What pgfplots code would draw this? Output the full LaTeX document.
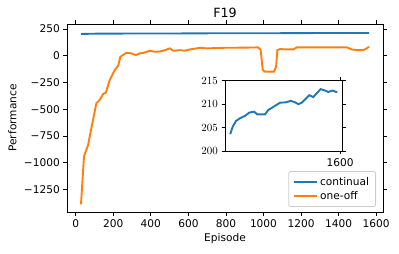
\documentclass[border=0pt]{standalone}
\usepackage{pgfplots}
\pgfplotsset{compat=1.18}
\usepackage{fontspec}
\setmainfont{DejaVu Sans}
\definecolor{tabblue}{RGB}{31,119,180}
\definecolor{taborange}{RGB}{255,127,14}
\definecolor{legframe}{RGB}{204,204,204}
\newcommand{\fs}{\fontsize{10.6}{12.7}\selectfont}
\pgfplotsset{
  cblue/.style={color=tabblue, line width=1.9pt, mark=none, solid},
  corange/.style={color=taborange, line width=1.9pt, mark=none, solid},
}
\begin{document}
\begin{tikzpicture}
\begin{axis}[
  at={(0pt,0pt)}, anchor=south west,
  scale only axis, width=316pt, height=188pt,
  xmin=-46.5, xmax=1636.5, ymin=-1462, ymax=297,
  axis line style={black, line width=0.8pt},
  tick align=outside, tick style={black, line width=0.8pt},
  major tick length=3.5pt,
  xtick={0,200,400,600,800,1000,1200,1400,1600},
  xticklabels={0,200,400,600,800,1000,1200,1400,1600},
  ytick={-1250,-1000,-750,-500,-250,0,250},
  yticklabels={−1250,−1000,−750,−500,−250,0,250},
  tick label style={font=\fs, inner sep=0pt},
  xticklabel style={yshift=-3.5pt},
  yticklabel style={xshift=-3.5pt},
  title={F19},
  every axis title/.style={font=\fontsize{12.7}{15}\selectfont, at={(axis description cs:0.5,1)}, anchor=base, inner sep=0pt, yshift=6pt},
  xlabel={Episode}, xlabel style={font=\fs, at={(axis description cs:0.5,0)}, anchor=base, yshift=-30pt},
  ylabel={Performance}, ylabel style={font=\fs, at={(axis description cs:0,0.5)}, anchor=base, yshift=50.5pt},
  legend style={at={(axis description cs:1,0)}, anchor=south east, xshift=-7pt, yshift=5pt,
    draw=legframe, line width=0.8pt, rounded corners=2pt, fill=white, font=\fs, inner xsep=4.5pt, inner ysep=3.5pt, row sep=1pt},
  legend cell align=left,
  legend image code/.code={\path[draw, sharp corners, #1] (0pt,0pt) -- (23pt,0pt);},
  legend entries={continual,one-off},
]
\addplot[cblue] coordinates {
(28,203.6)(64,205.2)(111,206.4)(168,207)(240,207.5)(301,208.2)(368,208.4)(416,207.8)(526,207.8)(573,208.75)(654,209.5)(740,210.3)(826,210.4)(893,210.7)(954,210.4)(1002,210.0)(1050,210.3)(1097,211.0)(1159,211.9)(1216,211.5)(1264,212.3)(1321,213.2)(1383,212.9)(1430,212.6)(1493,212.9)(1540,212.6)(1562,212.6)
};
\addplot[corange] coordinates {
(28,-1390)(44,-942)(66,-833)(92,-600)(110,-444)(128,-413)(146,-357)(160,-345)(181,-227)(208,-133)(226,-93)(238,-9)(270,28)(297,22)(320,6)(341,22)(363,28)(395,47)(421,37)(448,40)(475,52)(501,69)(519,47)(555,52)(581,47)(608,59)(644,69)(661,75)(697,69)(750,72)(804,75)(850,75)(900,76)(972,78)(985,53)(996,-133)(1008,-149)(1056,-149)(1067,-103)(1074,53)(1088,62)(1120,60)(1159,59)(1177,78)(1265,78)(1372,78)(1444,78)(1470,59)(1497,53)(1532,53)(1550,69)(1562,84)
};
\end{axis}
\begin{axis}[
  at={(158pt,61pt)}, anchor=south west,
  scale only axis, width=117.7pt, height=70.3pt,
  xmin=-46.5, xmax=1636.5, ymin=200, ymax=215,
  axis background/.style={fill=white},
  axis line style={black, line width=0.8pt},
  tick align=outside, tick style={black, line width=0.8pt},
  major tick length=3.5pt,
  xtick={1600}, xticklabels={1600},
  ytick={200,205,210,215},
  tick label style={font=\fs, inner sep=0pt},
  xticklabel style={yshift=-3.5pt},
  yticklabel style={xshift=-3.5pt},
]
\addplot[cblue] coordinates {
(28,203.6)(64,205.2)(111,206.4)(168,207)(240,207.5)(301,208.2)(368,208.4)(416,207.8)(526,207.8)(573,208.75)(654,209.5)(740,210.3)(826,210.4)(893,210.7)(954,210.4)(1002,210.0)(1050,210.3)(1097,211.0)(1159,211.9)(1216,211.5)(1264,212.3)(1321,213.2)(1383,212.9)(1430,212.6)(1493,212.9)(1540,212.6)(1562,212.6)
};
\end{axis}
\pgfresetboundingbox
\path[use as bounding box] (-67pt,-42pt) rectangle (332pt,212pt);
\end{tikzpicture}
\end{document}
